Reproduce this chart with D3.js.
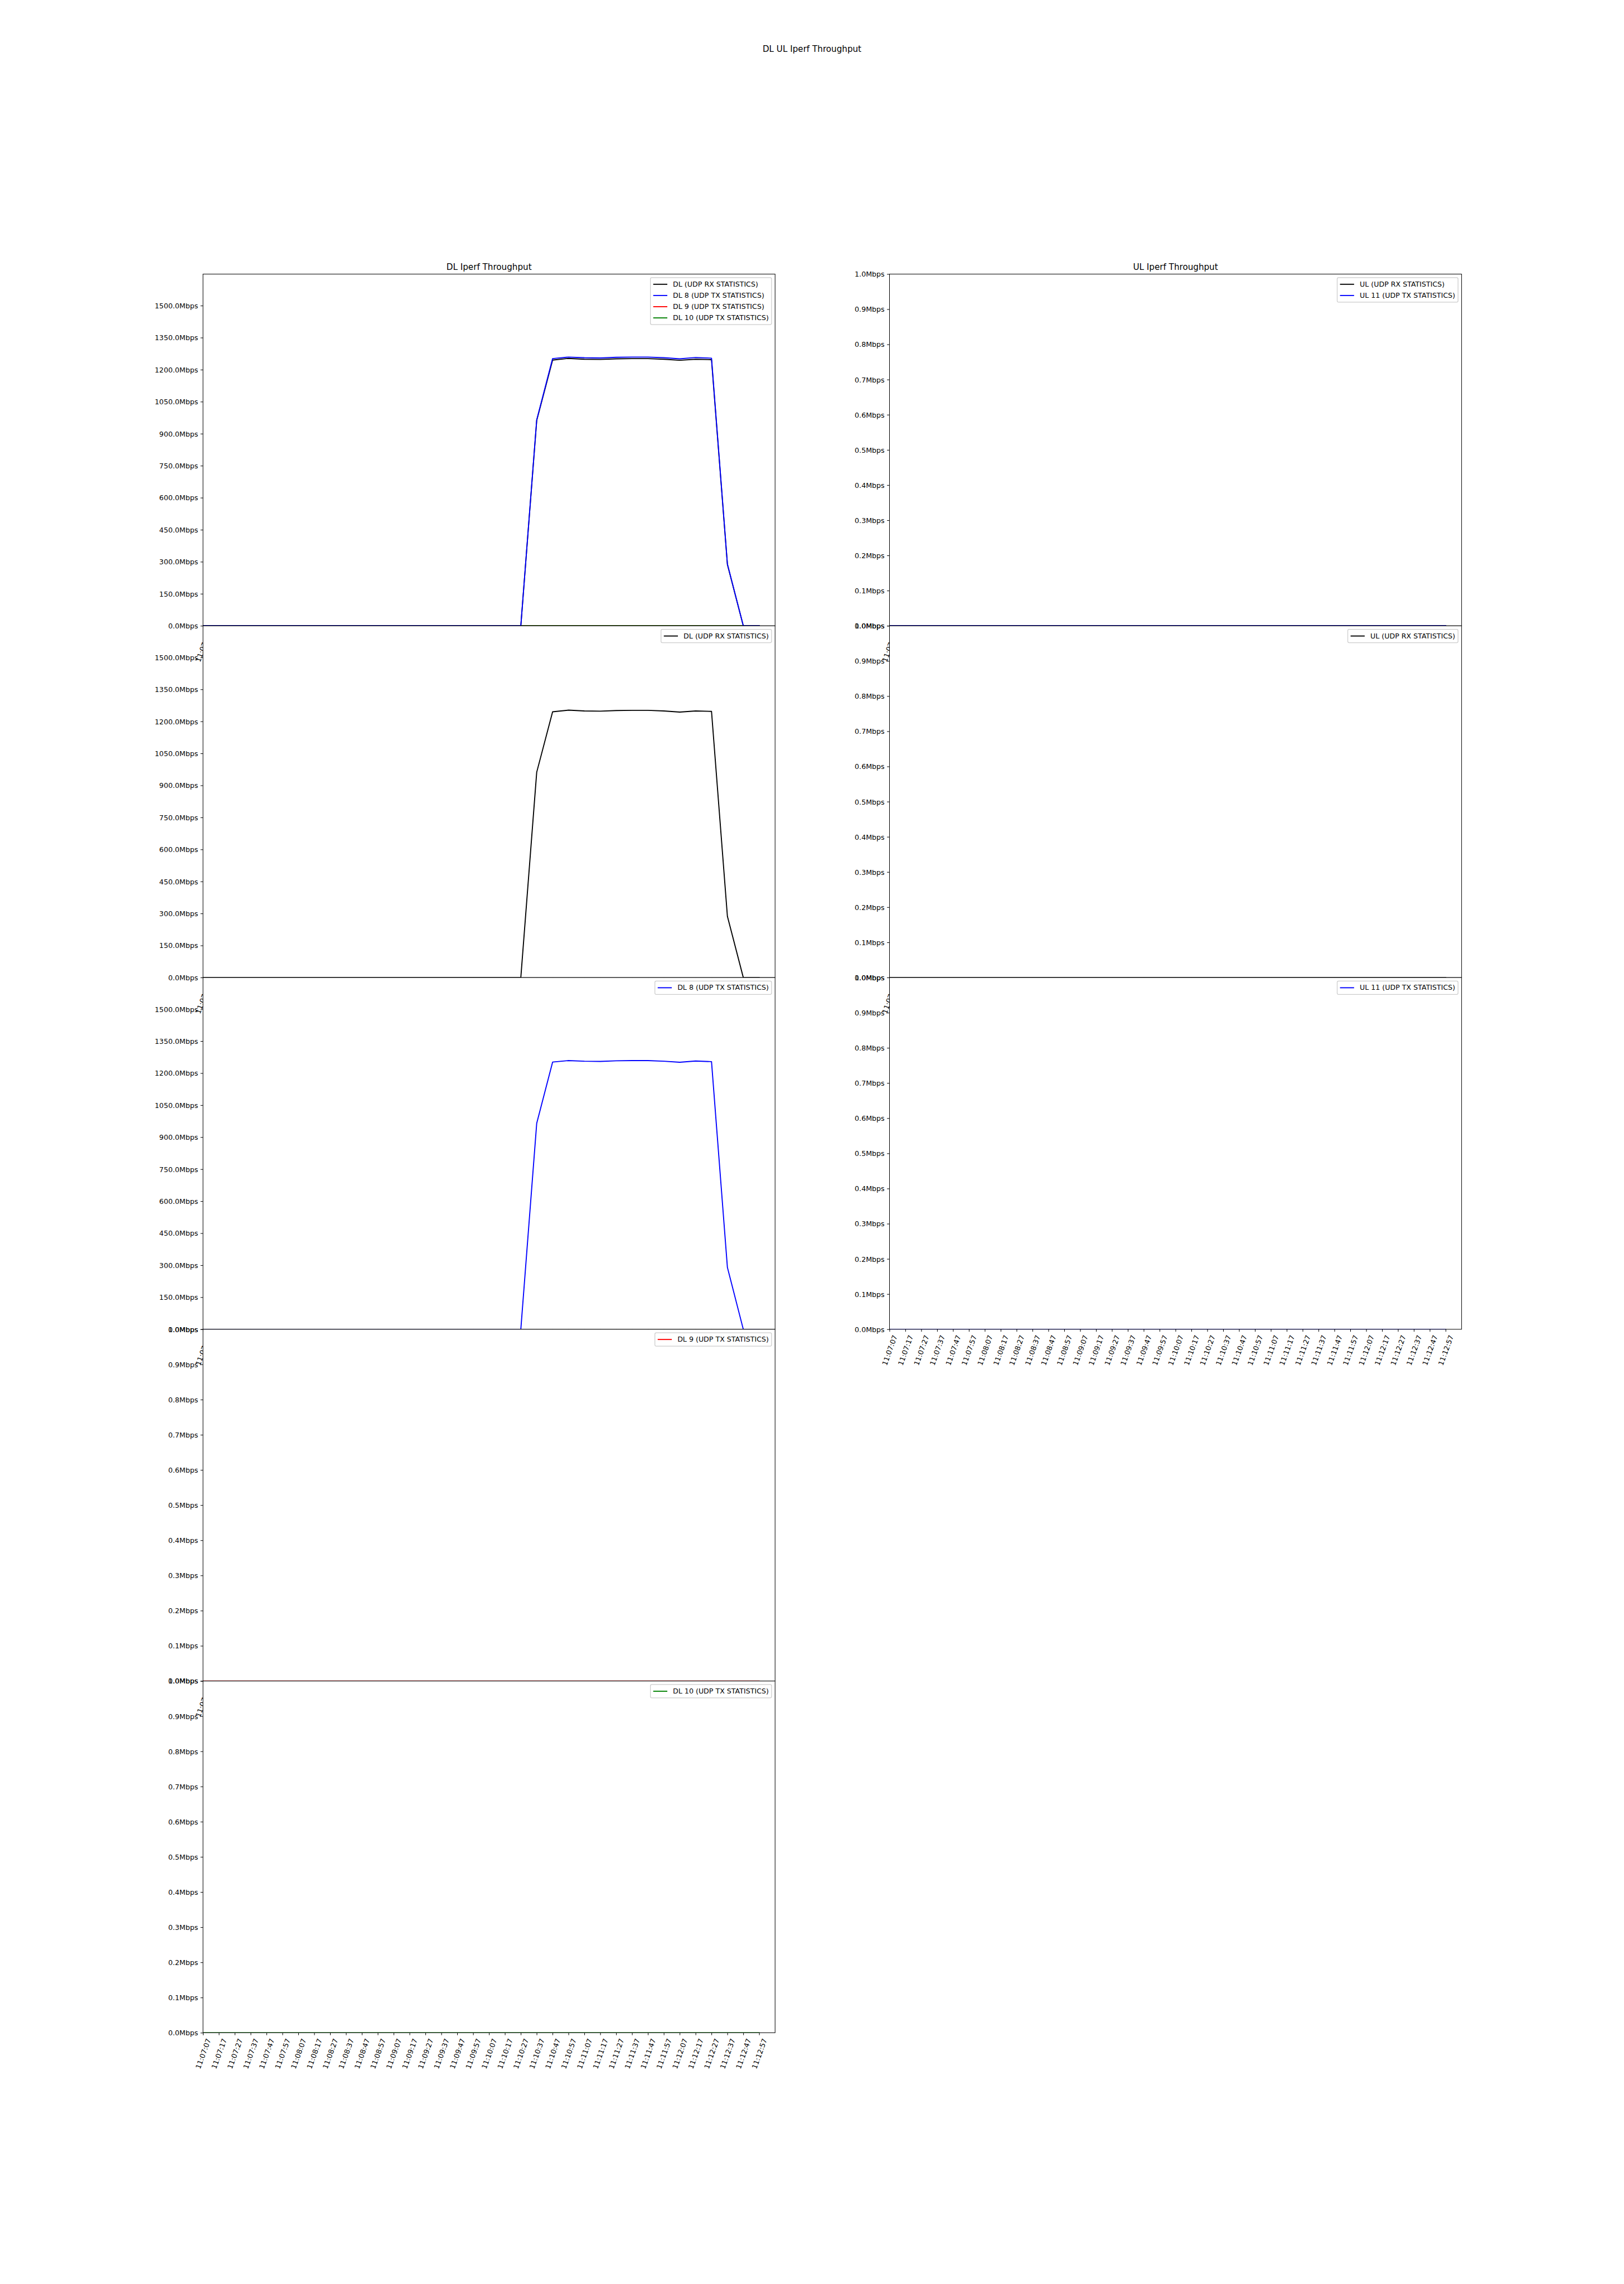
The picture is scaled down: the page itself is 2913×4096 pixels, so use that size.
<!DOCTYPE html>
<html>
<head>
<meta charset="utf-8">
<script src="https://cdn.jsdelivr.net/npm/d3@7"></script>
<style>
  html, body { margin: 0; padding: 0; background: #ffffff; }
  svg { display: block; }
  text { font-family: "DejaVu Sans", sans-serif; }
</style>
</head>
<body>
<script>
// ---------------- data ----------------
const times = ["11:07:07","11:07:17","11:07:27","11:07:37","11:07:47","11:07:57",
               "11:08:07","11:08:17","11:08:27","11:08:37","11:08:47","11:08:57",
               "11:09:07","11:09:17","11:09:27","11:09:37","11:09:47","11:09:57",
               "11:10:07","11:10:17","11:10:27","11:10:37","11:10:47","11:10:57",
               "11:11:07","11:11:17","11:11:27","11:11:37","11:11:47","11:11:57",
               "11:12:07","11:12:17","11:12:27","11:12:37","11:12:47","11:12:57"];

const dlRx = [0,0,0,0,0,0, 0,0,0,0,0,0, 0,0,0,0,0,0, 0,0,0,962,1245,1253,
              1249,1248,1251,1252,1252,1249, 1244,1249,1247,287,0,0];
const dl8  = [0,0,0,0,0,0, 0,0,0,0,0,0, 0,0,0,0,0,0, 0,0,0,965,1252,1259,
              1256,1255,1258,1259,1259,1256, 1251,1257,1254,290,0,0];
const dl9  = [0,0,0,0,0,0, 0,0,0,0,0,0, 0,0,0,0,0,0, 0,0,0,0,0,0, 0,0,0,0,0,0, 0,0,0,0,0,0];
const dl10 = [0,0,0,0,0,0, 0,0,0,0,0,0, 0,0,0,0,0,0, 0,0,0,0,0,0, 0,0,0,0,0,0, 0,0,0,0,0,0];
const ulRx = [0,0,0,0,0,0, 0,0,0,0,0,0, 0,0,0,0,0,0, 0,0,0,0,0,0, 0,0,0,0,0,0, 0,0,0,0,0,0];
const ul11 = [0,0,0,0,0,0, 0,0,0,0,0,0, 0,0,0,0,0,0, 0,0,0,0,0,0, 0,0,0,0,0,0, 0,0,0,0,0,0];

const dlTicks = [0,150,300,450,600,750,900,1050,1200,1350,1500];
const ulTicks = [0,0.1,0.2,0.3,0.4,0.5,0.6,0.7,0.8,0.9,1.0];
const dlMax = 1648;
const ulMax = 1.0;

const suptitle = "DL UL Iperf Throughput";
const dlTitle = "DL Iperf Throughput";
const ulTitle = "UL Iperf Throughput";

const S = {
  dlRx: {label: "DL (UDP RX STATISTICS)", values: dlRx, color: "#000000"},
  dl8:  {label: "DL 8 (UDP TX STATISTICS)", values: dl8, color: "#0000ff"},
  dl9:  {label: "DL 9 (UDP TX STATISTICS)", values: dl9, color: "#ff0000"},
  dl10: {label: "DL 10 (UDP TX STATISTICS)", values: dl10, color: "#008000"},
  ulRx: {label: "UL (UDP RX STATISTICS)", values: ulRx, color: "#000000"},
  ul11: {label: "UL 11 (UDP TX STATISTICS)", values: ul11, color: "#0000ff"}
};

// ---------------- layout (reference pixel units, 120 dpi) ----------------
const W = 3840, H = 5400;
const PT = 120 / 72;
const FS = 10 * PT, TFS = 12 * PT;
const LW = 1.5 * PT, SPW = 0.8 * PT, TICK = 3.5 * PT, PAD = 3.5 * PT;
const colW = 1352.7;
const colX = [480, 480 + colW * 1.2];
const top0 = 648, rowH = (4806 - 648) / 5;

const panels = [
  {col:0,row:0,title:dlTitle, draw:["dl9","dl10","dlRx","dl8"], legend:["dlRx","dl8","dl9","dl10"], yMax:dlMax, ticks:dlTicks},
  {col:0,row:1,draw:["dlRx"], legend:["dlRx"], yMax:dlMax, ticks:dlTicks},
  {col:0,row:2,draw:["dl8"], legend:["dl8"], yMax:dlMax, ticks:dlTicks},
  {col:0,row:3,draw:["dl9"], legend:["dl9"], yMax:ulMax, ticks:ulTicks},
  {col:0,row:4,draw:["dl10"], legend:["dl10"], yMax:ulMax, ticks:ulTicks},
  {col:1,row:0,title:ulTitle, draw:["ulRx","ul11"], legend:["ulRx","ul11"], yMax:ulMax, ticks:ulTicks},
  {col:1,row:1,draw:["ulRx"], legend:["ulRx"], yMax:ulMax, ticks:ulTicks},
  {col:1,row:2,draw:["ul11"], legend:["ul11"], yMax:ulMax, ticks:ulTicks}
];

const svg = d3.select("body").append("svg")
  .attr("width", 2913).attr("height", 4096)
  .attr("viewBox", `0 0 ${W} ${H}`)
  .attr("preserveAspectRatio", "none");

svg.append("rect").attr("width", W).attr("height", H).attr("fill", "#ffffff");

const defs = svg.append("defs");
const rad = 70 * Math.PI / 180;

panels.forEach((p, k) => {
  const x0 = colX[p.col], x1 = x0 + colW;
  const y0 = top0 + p.row * rowH, y1 = y0 + rowH;
  const x = d3.scaleLinear().domain([0, times.length]).range([x0, x1]);
  const y = d3.scaleLinear().domain([0, p.yMax]).range([y1, y0]);

  const g = svg.append("g");
  g.append("rect").attr("x", x0).attr("y", y0).attr("width", colW).attr("height", rowH)
    .attr("fill", "#ffffff");

  const cid = "clip" + k;
  defs.append("clipPath").attr("id", cid).append("rect")
    .attr("x", x0).attr("y", y0).attr("width", colW).attr("height", rowH);

  const line = d3.line().x((d, i) => x(i)).y(d => y(d));
  const lg = g.append("g").attr("clip-path", `url(#${cid})`);
  p.draw.forEach(key => {
    lg.append("path").attr("d", line(S[key].values))
      .attr("fill", "none").attr("stroke", S[key].color)
      .attr("stroke-width", LW).attr("stroke-linejoin", "round").attr("stroke-linecap", "square");
  });

  // spines
  g.append("rect").attr("x", x0).attr("y", y0).attr("width", colW).attr("height", rowH)
    .attr("fill", "none").attr("stroke", "#000000").attr("stroke-width", SPW);

  // y axis
  const yAxis = d3.axisLeft(y).tickValues(p.ticks)
    .tickFormat(d => d.toFixed(1) + "Mbps").tickSize(TICK).tickPadding(PAD);
  const ya = g.append("g").attr("transform", `translate(${x0},0)`).call(yAxis);
  ya.select(".domain").remove();
  ya.attr("font-family", "DejaVu Sans").attr("font-size", FS);
  ya.selectAll(".tick line").attr("stroke", "#000000").attr("stroke-width", SPW);
  ya.selectAll(".tick text").attr("fill", "#000000").attr("dy", "0.35em");

  // x axis
  const xAxis = d3.axisBottom(x).tickValues(d3.range(times.length))
    .tickFormat(i => times[i]).tickSize(TICK).tickPadding(PAD);
  const xa = g.append("g").attr("transform", `translate(0,${y1})`).call(xAxis);
  xa.select(".domain").remove();
  xa.attr("font-family", "DejaVu Sans").attr("font-size", FS);
  xa.selectAll(".tick line").attr("stroke", "#000000").attr("stroke-width", SPW);
  xa.selectAll(".tick text").attr("fill", "#000000")
    .attr("y", null).attr("dy", null)
    .attr("text-anchor", "middle").attr("dominant-baseline", "central")
    .attr("transform", function () {
      const w = this.getComputedTextLength();
      const rh = w * Math.sin(rad) + FS * Math.cos(rad);
      return `translate(0,${TICK + PAD + rh / 2}) rotate(-70)`;
    });

  // title
  if (p.title) {
    g.append("text").attr("x", (x0 + x1) / 2).attr("y", y0 - 6 * PT)
      .attr("text-anchor", "middle").attr("font-size", TFS).attr("fill", "#000000")
      .text(p.title);
  }

  // legend
  const pad = 0.4 * FS, rowPitch = 26.5, rowHgt = 18.2;
  const leg = g.append("g");
  const box = leg.append("rect");
  const items = leg.selectAll("g.item").data(p.legend).enter().append("g");
  let maxW = 0;
  items.each(function (key, i) {
    const it = d3.select(this);
    const ry = pad + i * rowPitch;
    it.append("line").attr("x1", pad).attr("x2", pad + 2 * FS)
      .attr("y1", ry + rowHgt / 2).attr("y2", ry + rowHgt / 2)
      .attr("stroke", S[key].color).attr("stroke-width", LW).attr("stroke-linecap", "butt");
    const t = it.append("text").attr("x", pad + 2.8 * FS).attr("y", ry + 14.3)
      .attr("font-size", FS).attr("fill", "#000000").text(S[key].label);
    maxW = Math.max(maxW, t.node().getComputedTextLength());
  });
  const bw = pad + 2.8 * FS + maxW + pad;
  const bh = 2 * pad + p.legend.length * rowHgt + (p.legend.length - 1) * (rowPitch - rowHgt);
  box.attr("x", 0).attr("y", 0).attr("width", bw).attr("height", bh)
    .attr("rx", 0.2 * FS).attr("ry", 0.2 * FS)
    .attr("fill", "#ffffff").attr("fill-opacity", 0.8)
    .attr("stroke", "#cccccc").attr("stroke-width", 1.0 * PT);
  leg.attr("transform", `translate(${x1 - 0.5 * FS - bw},${y0 + 0.5 * FS})`);
});

svg.append("text").attr("x", W / 2).attr("y", 122)
  .attr("text-anchor", "middle").attr("font-size", TFS).attr("fill", "#000000")
  .text(suptitle);
</script>
</body>
</html>
